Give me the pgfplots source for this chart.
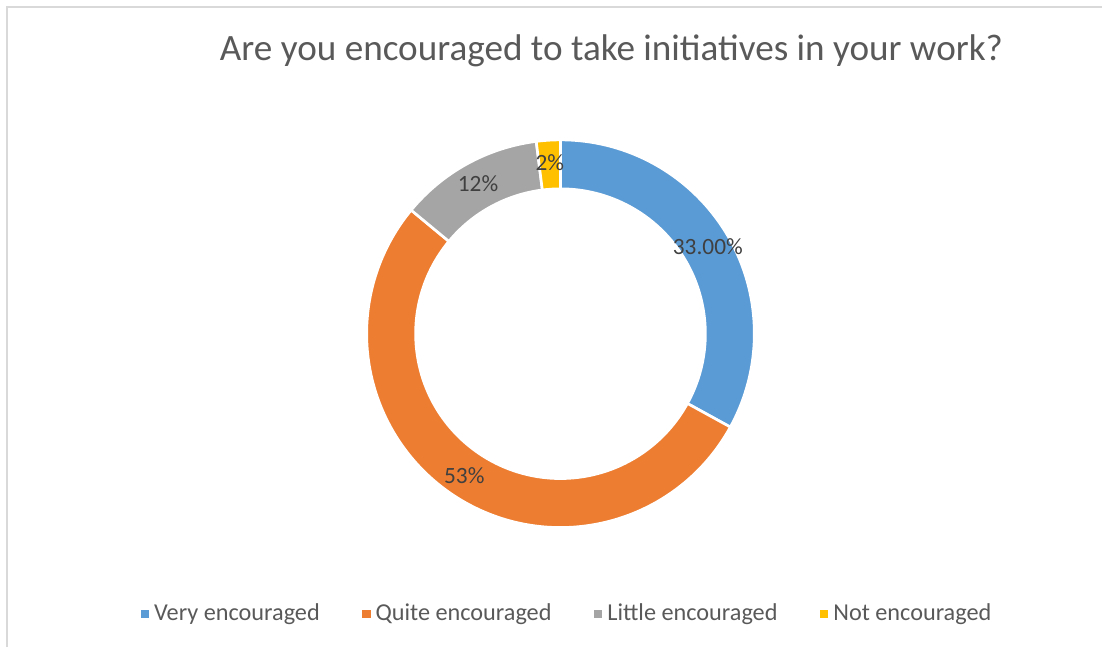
\documentclass[border=0pt]{standalone}
\usepackage{pgfplots}
\pgfplotsset{compat=1.18}
\usepackage{pgfplotstable}
\usepackage{fontspec}
\setmainfont{Carlito}
\usetikzlibrary{calc}

\definecolor{vblue}{HTML}{5B9BD5}
\definecolor{qorange}{HTML}{ED7D31}
\definecolor{lgray}{HTML}{A5A5A5}
\definecolor{nyellow}{HTML}{FFC000}
\definecolor{txt}{HTML}{595959}
\definecolor{lbl}{HTML}{404040}
\definecolor{frame}{HTML}{D9D9D9}

% share of answers (%), label shown on the ring, slice colour
\pgfplotstableread[col sep=comma]{
name,value,label,col
Very encouraged,33,33.00\%,vblue
Quite encouraged,53,53\%,qorange
Little encouraged,12,12\%,lgray
Not encouraged,2,2\%,nyellow
}\donut

\begin{document}
\begin{tikzpicture}
\begin{axis}[
    scale only axis,
    width=827.25pt, height=486pt,
    xmin=0, xmax=1103, ymin=0, ymax=648,
    hide axis, clip=false,
    legend columns=4,
    legend style={at={(axis cs:568,34)}, anchor=center, draw=none, fill=none,
        font=\fontsize{18.2}{21}\selectfont\color{txt},
        /tikz/every even column/.append style={column sep=30pt}},
    legend image code/.code={\fill (0pt,-2.7pt) rectangle (5.4pt,2.7pt); \path (7.5pt,0pt);},
]
\path (axis cs:0,0) rectangle (axis cs:1103,648);
\draw[frame, line width=1.5pt] (axis cs:7,0) -- (axis cs:7,641) -- (axis cs:1103,641);

\node[txt, font=\fontsize{27.9}{33}\selectfont] at (axis cs:612,597) {Are you encouraged to take initiatives in your work?};

\def\startang{90}
\pgfplotsforeachungrouped \i in {0,...,3}{
    \pgfplotstablegetelem{\i}{value}\of\donut \let\val\pgfplotsretval
    \pgfplotstablegetelem{\i}{col}\of\donut \let\col\pgfplotsretval
    \pgfplotstablegetelem{\i}{label}\of\donut \let\lab\pgfplotsretval
    \pgfmathsetmacro\endang{\startang-3.6*\val}
    \pgfmathsetmacro\midang{(\startang+\endang)/2}
    \edef\temp{%
      \noexpand\filldraw[fill=\col, draw=white, line width=2pt, line join=miter]
        ($(axis cs:561,314)+(\startang:145.5pt)$)
        arc[start angle=\startang, end angle=\endang, radius=145.5pt]
        -- ($(axis cs:561,314)+(\endang:108.75pt)$)
        arc[start angle=\endang, end angle=\startang, radius=108.75pt] -- cycle;
      \noexpand\node[lbl, font=\noexpand\fontsize{17.5}{20}\noexpand\selectfont]
        at ($(axis cs:561,314)+(\midang:128.5pt)$) {\unexpanded\expandafter{\lab}};
    }
    \temp
    \global\let\startang\endang
}

\addlegendimage{vblue, fill=vblue}
\addlegendentry{Very encouraged}
\addlegendimage{qorange, fill=qorange}
\addlegendentry{Quite encouraged}
\addlegendimage{lgray, fill=lgray}
\addlegendentry{Little encouraged}
\addlegendimage{nyellow, fill=nyellow}
\addlegendentry{Not encouraged}
\end{axis}
\end{tikzpicture}
\end{document}
